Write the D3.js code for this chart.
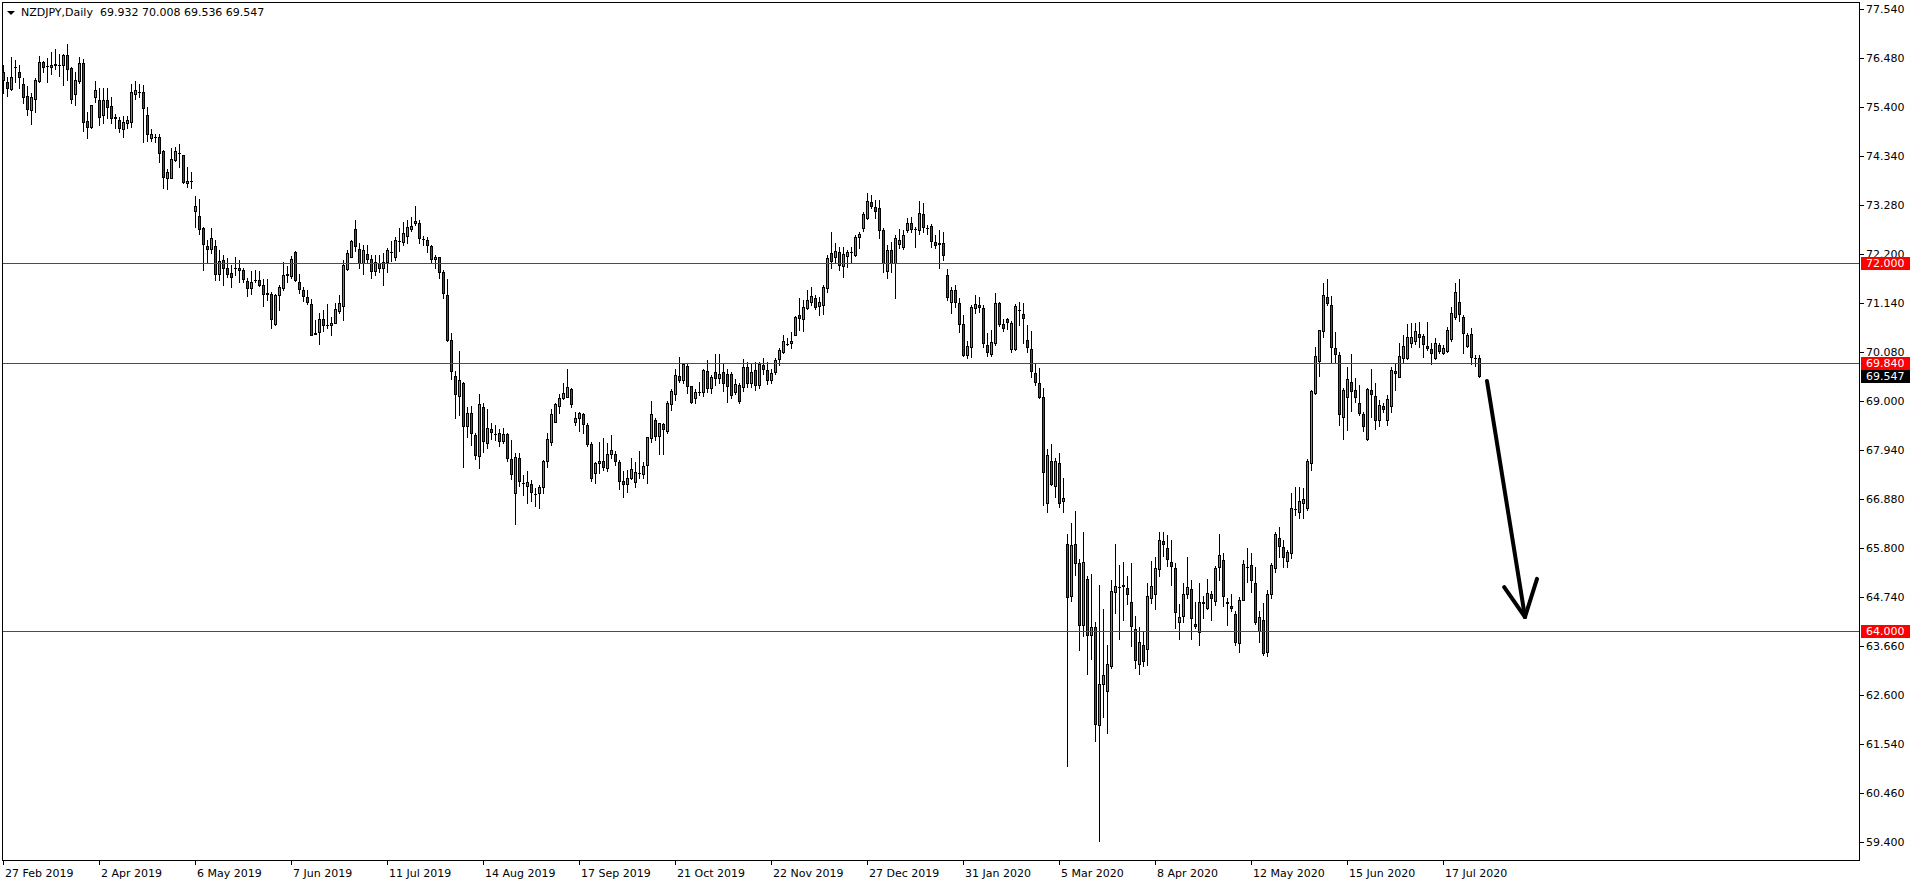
<!DOCTYPE html>
<html><head><meta charset="utf-8">
<script src="https://cdn.jsdelivr.net/npm/d3@7"></script>
<style>html,body{margin:0;padding:0;background:#fff;overflow:hidden}</style>
</head><body><svg id="c" width="1916" height="884"></svg>
<script>
// ---------------- DATA ----------------
const symbolLabel = "NZDJPY,Daily";
const opens = [
76.16,75.94,75.79,76.28,76.16,75.90,75.65,75.33,75.59,75.98,
76.38,76.30,76.28,76.33,76.33,76.31,76.54,76.25,75.69,75.98,
76.36,75.10,74.96,75.63,75.56,75.23,75.56,75.43,75.18,75.12,
74.93,75.05,75.09,75.68,75.74,75.73,75.23,74.72,74.76,74.75,
74.45,73.87,73.85,74.25,74.41,74.36,73.74,73.80,73.15,73.03,
72.78,72.38,72.31,72.38,71.76,72.07,71.91,71.80,71.91,71.91,
71.85,71.61,71.46,71.64,71.64,71.54,71.35,71.33,70.67,71.31,
71.46,71.75,71.73,72.24,71.59,71.41,71.26,71.11,70.48,70.50,
70.80,70.65,70.65,70.71,70.97,71.07,71.88,72.15,72.74,72.31,
72.00,72.20,72.09,71.84,72.00,71.89,72.04,72.24,72.15,72.49,
72.47,72.60,72.74,72.87,72.89,72.53,72.52,72.38,72.09,72.13,
71.81,71.31,70.33,69.55,69.12,69.39,68.47,68.74,68.26,67.81,
68.87,68.08,68.39,68.29,68.30,68.14,68.28,67.74,66.99,67.76,
67.21,67.15,67.19,66.97,66.99,67.12,67.70,68.12,68.55,68.89,
69.06,69.08,69.26,68.54,68.64,68.71,68.48,68.06,67.43,67.65,
67.70,67.54,67.85,67.86,67.67,67.26,67.19,67.32,67.23,67.43,
67.41,67.60,68.19,68.59,68.24,68.50,68.34,68.94,69.15,69.55,
69.45,69.77,69.32,69.06,69.21,69.19,69.66,69.28,69.63,69.50,
69.63,69.59,69.59,69.21,69.35,69.30,69.75,69.40,69.68,69.35,
69.79,69.68,69.45,69.64,69.91,70.06,70.25,70.26,70.45,70.88,
70.80,71.02,71.17,71.24,71.08,71.09,71.47,72.22,72.15,72.24,
71.95,72.17,72.25,72.18,72.57,72.78,72.98,73.33,73.22,73.20,
72.73,71.84,72.29,72.00,72.42,72.36,72.73,72.87,72.74,72.73,
73.07,72.78,72.81,72.46,72.45,72.44,71.75,71.17,71.43,71.13,
70.69,70.00,70.19,71.02,71.09,71.02,70.23,70.03,70.27,71.14,
70.68,70.80,70.13,70.13,70.99,70.90,70.33,70.14,69.61,69.40,
69.09,66.78,67.69,67.15,67.65,66.83,65.90,64.75,65.88,65.48,
64.12,65.13,63.90,64.09,61.94,62.85,62.68,63.24,64.85,64.95,
64.97,64.94,64.63,64.04,63.27,63.68,63.60,64.71,64.81,65.34,
65.96,65.80,65.50,65.37,64.19,64.32,64.81,64.91,64.15,63.97,
64.61,64.49,64.81,64.65,65.38,65.54,64.63,64.54,64.36,63.73,
64.68,65.38,65.43,65.05,63.99,64.23,63.54,64.81,65.37,66.03,
65.82,65.53,65.70,66.65,66.59,66.79,66.68,67.66,69.17,69.88,
70.53,71.26,71.09,70.15,70.01,68.66,69.10,69.41,69.24,68.95,
68.71,68.17,69.24,69.11,68.60,68.90,68.60,68.90,69.66,69.53,
69.95,69.93,70.27,70.32,70.46,70.42,70.20,70.13,69.93,70.22,
70.04,70.10,70.35,70.83,71.15,70.84,70.20,70.46,69.95,69.932];
const highs = [
76.31,76.05,76.49,76.43,76.31,76.03,75.86,75.70,76.04,76.52,
76.41,76.47,76.60,76.67,76.55,76.57,76.78,76.27,76.17,76.49,
76.45,75.29,75.46,75.97,75.81,75.83,75.83,75.63,75.25,75.18,
75.20,75.20,75.90,75.97,75.90,75.89,75.40,74.93,74.81,74.82,
74.47,74.05,74.51,74.53,74.60,74.37,74.11,74.00,73.47,73.40,
72.79,72.52,72.78,72.52,72.29,72.18,72.12,71.96,72.15,72.07,
71.90,71.68,71.84,71.86,71.84,71.66,71.66,71.37,71.33,71.53,
72.02,71.94,72.16,72.28,71.78,71.49,71.43,71.22,70.77,70.93,
70.99,71.11,70.84,71.13,71.31,72.07,72.29,72.51,72.95,72.44,
72.40,72.40,72.18,72.18,72.18,72.22,72.34,72.49,72.58,72.78,
72.91,72.95,73.00,73.24,72.95,72.60,72.58,72.40,72.18,72.15,
71.86,71.66,70.49,69.66,70.09,69.42,68.88,68.90,68.30,69.15,
68.95,68.83,68.52,68.48,68.39,68.41,68.30,68.15,67.88,67.88,
67.39,67.48,67.28,67.10,67.17,67.72,68.30,68.82,68.95,69.15,
69.39,69.69,69.28,68.77,68.77,68.75,68.53,68.10,67.68,68.10,
68.19,68.08,68.26,67.92,67.72,67.49,67.50,67.76,67.68,67.92,
67.68,68.23,69.00,68.63,68.53,68.52,69.00,69.26,69.71,69.97,
69.82,69.82,69.33,69.26,69.42,69.70,69.90,69.57,70.03,70.03,
69.82,69.71,69.64,69.48,69.40,69.92,69.86,69.84,69.86,69.86,
69.93,69.86,69.70,69.93,70.15,70.44,70.37,70.51,70.85,71.25,
71.20,71.43,71.49,71.31,71.27,71.53,72.18,72.68,72.44,72.36,
72.36,72.29,72.36,72.62,72.69,73.13,73.53,73.49,73.38,73.38,
72.78,72.40,72.46,72.62,72.76,72.73,72.98,73.02,72.80,73.36,
73.31,72.84,72.85,72.62,72.73,72.68,71.88,71.49,71.54,71.24,
70.87,70.30,71.09,71.31,71.27,71.10,70.48,70.54,71.35,71.16,
70.78,70.82,70.74,71.12,71.16,71.14,70.65,70.52,69.83,69.73,
69.28,67.96,68.06,67.77,67.88,67.33,66.10,66.35,66.60,65.56,
66.16,65.19,65.23,64.20,64.99,64.47,63.70,65.11,65.88,65.44,
65.49,65.19,65.48,64.33,64.09,63.98,65.03,65.53,65.60,66.16,
66.16,66.08,65.98,65.48,64.59,65.03,65.60,65.11,64.63,65.05,
64.75,65.13,64.87,65.40,66.10,65.70,64.71,64.80,64.42,64.74,
65.54,65.80,65.70,65.38,64.42,64.60,64.89,65.47,66.16,66.25,
65.98,65.76,66.99,67.12,67.14,67.10,67.75,69.24,70.19,70.56,
71.58,71.67,71.28,70.51,70.06,69.28,69.75,70.03,69.50,69.35,
68.77,69.28,69.69,69.40,69.03,68.95,69.13,69.74,69.82,70.26,
70.44,70.69,70.71,70.71,70.73,70.46,70.73,70.26,70.37,70.26,
70.22,70.61,71.04,71.58,71.67,70.88,70.48,70.59,70.00,70.008];
const lows = [
75.72,75.65,75.78,75.96,75.81,75.49,75.23,75.03,75.30,75.96,
76.16,75.96,76.12,76.23,76.08,75.88,75.99,75.50,75.44,75.92,
74.89,74.74,74.94,75.52,75.01,75.05,75.17,75.05,74.94,74.87,
74.76,74.94,74.96,75.59,75.63,74.65,74.67,74.67,74.65,74.20,
73.65,73.61,73.85,74.22,74.11,73.74,73.67,73.64,72.80,72.63,
71.86,72.00,72.22,71.64,71.64,71.54,71.71,71.49,71.75,71.59,
71.59,71.30,71.33,71.59,71.51,71.08,71.20,70.60,70.66,70.99,
71.41,71.59,71.69,71.62,71.35,71.18,71.11,70.43,70.46,70.25,
70.53,70.59,70.44,70.70,70.91,70.77,71.86,72.13,72.27,71.91,
71.77,72.00,71.69,71.75,71.82,71.52,71.82,72.05,72.07,72.26,
72.40,72.44,72.71,72.84,72.45,72.40,72.24,72.00,71.89,71.69,
71.25,70.32,69.48,68.64,68.70,67.57,68.23,68.05,67.74,67.55,
67.90,67.99,68.18,68.15,68.02,68.08,67.70,67.30,66.32,67.15,
66.96,66.78,66.83,66.72,66.67,66.99,67.57,68.05,68.55,68.74,
69.04,69.08,68.88,68.48,68.36,68.30,68.02,67.27,67.21,67.43,
67.50,67.49,67.76,67.61,67.08,66.92,67.03,67.30,67.14,67.32,
67.32,67.21,68.12,68.15,67.84,67.84,68.30,68.81,69.03,69.42,
69.39,69.17,68.97,68.95,69.13,69.11,69.19,69.17,69.35,69.40,
69.22,68.99,69.06,69.16,68.95,69.22,69.30,69.30,69.25,69.28,
69.60,69.38,69.40,69.60,69.79,70.04,70.22,70.15,70.44,70.55,
70.53,71.01,71.09,71.01,70.88,70.89,71.38,71.89,72.04,71.85,
71.71,71.93,72.00,72.17,72.33,72.71,72.97,73.20,72.99,72.55,
71.81,71.69,71.81,71.24,72.33,72.31,72.69,72.69,72.35,72.64,
72.69,72.63,72.35,72.33,71.91,72.07,71.20,70.93,71.06,70.51,
69.99,69.95,69.97,70.91,70.95,70.18,69.99,69.99,70.22,70.64,
70.52,70.58,70.07,70.11,70.65,70.27,70.06,69.52,69.36,69.07,
66.73,66.58,67.17,66.91,66.69,66.59,61.06,64.65,65.22,63.58,
63.88,63.06,63.38,61.59,59.43,62.13,61.77,63.18,64.39,63.82,
64.23,64.59,63.66,63.20,63.06,63.24,63.26,64.60,64.47,65.19,
65.62,65.40,64.99,64.06,63.81,64.20,64.71,63.82,64.06,63.70,
64.28,64.47,64.24,64.56,65.11,64.53,64.12,64.42,63.69,63.54,
64.67,65.07,64.85,64.15,63.76,63.47,63.46,64.72,65.29,65.61,
65.38,65.39,65.58,66.52,66.45,66.45,66.63,67.50,69.16,69.55,
70.39,71.09,69.84,69.84,68.48,68.17,68.37,68.79,68.99,68.70,
68.34,68.15,68.66,68.39,68.46,68.77,68.48,68.77,69.24,69.52,
69.86,69.91,70.17,70.25,70.19,69.97,70.11,69.81,69.91,70.04,
70.02,70.08,70.32,70.80,70.75,70.04,70.19,69.80,69.77,69.536];
const closes = [
75.99,75.83,76.07,76.28,76.05,75.63,75.36,75.62,75.99,76.38,
76.27,76.29,76.32,76.34,76.32,76.54,76.24,75.57,75.99,76.36,
75.09,74.96,75.45,75.77,75.19,75.56,75.40,75.17,75.17,74.94,
75.07,75.12,75.73,75.77,75.74,75.38,74.81,74.81,74.76,74.40,
73.89,73.98,74.27,74.45,74.41,73.77,73.80,73.80,73.25,72.76,
72.42,72.31,72.56,71.78,72.05,71.91,71.78,71.70,71.91,71.86,
71.65,71.46,71.59,71.63,71.54,71.33,71.34,70.78,71.31,71.48,
71.74,71.76,72.09,71.64,71.44,71.30,71.15,70.44,70.46,70.80,
70.66,70.65,70.70,71.00,71.13,71.97,72.22,72.49,72.37,72.00,
72.29,72.09,71.84,72.02,71.91,72.02,72.29,72.24,72.51,72.49,
72.66,72.79,72.81,72.92,72.55,72.53,72.39,72.09,72.14,71.81,
71.36,70.33,69.66,69.16,69.46,68.47,68.74,68.30,67.83,68.93,
68.13,68.41,68.32,68.29,68.14,68.28,67.76,67.41,67.78,67.27,
67.21,67.23,67.03,66.97,67.12,67.70,68.17,68.71,68.94,69.06,
69.17,69.30,68.93,68.63,68.74,68.50,68.06,67.32,67.66,67.70,
67.56,67.86,67.94,67.70,67.26,67.19,67.32,67.52,67.45,67.43,
67.59,68.21,68.73,68.24,68.52,68.39,68.95,69.22,69.57,69.46,
69.81,69.32,68.99,69.21,69.21,69.68,69.28,69.52,69.50,69.59,
69.40,69.32,69.13,69.37,69.00,69.75,69.40,69.64,69.35,69.80,
69.70,69.45,69.62,69.90,70.11,70.31,70.25,70.30,70.84,70.82,
71.06,71.20,71.30,71.04,71.15,71.48,72.12,72.05,72.28,71.96,
72.20,72.25,72.25,72.58,72.65,73.07,73.36,73.24,73.15,72.73,
72.00,72.29,72.00,72.55,72.52,72.62,72.89,72.76,72.74,73.09,
72.80,72.78,72.49,72.40,72.43,72.18,71.26,71.42,71.15,70.69,
70.00,70.21,71.06,71.11,71.04,70.26,70.07,70.29,71.14,70.68,
70.60,70.72,70.70,71.08,70.98,70.82,70.18,69.65,69.41,69.08,
67.45,67.82,67.19,67.69,66.78,66.89,64.73,65.86,65.48,64.12,
65.49,63.90,64.08,61.97,62.83,63.03,63.27,64.87,64.98,64.95,
64.99,64.81,64.10,63.36,63.76,63.35,64.75,64.98,65.37,65.98,
65.90,65.57,65.42,64.40,64.31,64.81,64.95,64.27,64.10,64.63,
64.62,64.83,64.71,65.37,65.64,64.75,64.60,64.49,63.76,64.68,
65.45,65.38,65.10,64.18,64.29,63.52,64.81,65.43,66.10,65.85,
65.60,65.71,66.67,66.66,66.83,66.88,67.70,69.22,69.98,70.55,
71.31,71.13,70.19,70.02,68.71,69.24,69.48,69.23,69.08,68.75,
68.47,69.26,69.16,68.60,68.92,68.84,69.04,69.68,69.61,69.98,
70.20,70.39,70.39,70.53,70.40,70.25,70.15,70.04,70.26,70.10,
70.16,70.55,70.91,71.38,70.90,70.48,70.44,69.97,69.93,69.547];

const xTickLabels = ["27 Feb 2019","2 Apr 2019","6 May 2019","7 Jun 2019","11 Jul 2019",
  "14 Aug 2019","17 Sep 2019","21 Oct 2019","22 Nov 2019","27 Dec 2019","31 Jan 2020",
  "5 Mar 2020","8 Apr 2020","12 May 2020","15 Jun 2020","17 Jul 2020"];
const xTickBars = [0,24,48,72,96,120,144,168,192,216,240,264,288,312,336,360];
const yTickValues = [77.54,76.48,75.40,74.34,73.28,72.20,71.14,70.08,69.00,67.94,66.88,
  65.80,64.74,63.66,62.60,61.54,60.46,59.40];
const levelPrices = [72.0, 69.84, 64.0];
const arrowBars = [371, 380.5];
const arrowPrices = [69.44, 64.30];
const arrowHeadBars = [375.3, 383.5];
const arrowHeadPrices = [64.95, 65.13];

// ---------------- CHART ----------------
const FONT = "DejaVu Sans, Verdana, sans-serif";
const svg = d3.select("#c");
const P = {left: 2, top: 2, right: 1859, bottom: 860};
const x = d3.scaleLinear().domain([-0.25, 464]).range([P.left, P.right]);
const y = d3.scaleLinear().domain([59.4, 77.54]).range([842, 9]);
const R = Math.round;
const BULL = "#33b533", BEAR = "#ff0000";

svg.append("rect").attr("width", 1916).attr("height", 884).attr("fill", "#fff");

const data = opens.map((o, i) => ({i, o, h: highs[i], l: lows[i], c: closes[i]}));
const gC = svg.append("g");
// wicks
gC.selectAll("rect.w").data(data).join("rect")
  .attr("x", d => R(x(d.i)))
  .attr("y", d => R(y(d.h)))
  .attr("width", 1)
  .attr("height", d => Math.max(1, R(y(d.l)) - R(y(d.h)) + 1))
  .attr("fill", "#000");
// bodies
const bodies = data.filter(d => R(y(d.o)) !== R(y(d.c)));
gC.selectAll("rect.b").data(bodies).join("rect")
  .attr("x", d => R(x(d.i)) - 0.5)
  .attr("y", d => R(y(Math.max(d.o, d.c))) + 0.5)
  .attr("width", 2)
  .attr("height", d => R(y(Math.min(d.o, d.c))) - R(y(Math.max(d.o, d.c))))
  .attr("fill", d => d.c > d.o ? BULL : BEAR)
  .attr("stroke", "#000").attr("stroke-width", 1);
// doji
const dojis = data.filter(d => R(y(d.o)) === R(y(d.c)));
gC.selectAll("rect.d").data(dojis).join("rect")
  .attr("x", d => R(x(d.i)) - 1)
  .attr("y", d => R(y(d.o)))
  .attr("width", 3).attr("height", 1).attr("fill", "#000");

// horizontal levels
svg.append("g").selectAll("line").data(levelPrices).join("line")
  .attr("x1", P.left).attr("x2", P.right)
  .attr("y1", d => R(y(d)) + 0.5).attr("y2", d => R(y(d)) + 0.5)
  .attr("stroke", "#ff0000").attr("stroke-width", 1);

// arrow
const gA = svg.append("g").attr("stroke", "#000").attr("stroke-width", 4)
  .attr("stroke-linecap", "round").attr("fill", "none");
gA.append("line")
  .attr("x1", x(arrowBars[0])).attr("y1", y(arrowPrices[0]))
  .attr("x2", x(arrowBars[1])).attr("y2", y(arrowPrices[1]));
arrowHeadBars.forEach((b, k) => {
  gA.append("line")
    .attr("x1", x(arrowBars[1])).attr("y1", y(arrowPrices[1]))
    .attr("x2", x(b)).attr("y2", y(arrowHeadPrices[k]));
});

// frame
svg.append("rect").attr("x", P.left + 0.5).attr("y", P.top + 0.5)
  .attr("width", P.right - P.left).attr("height", P.bottom - P.top)
  .attr("fill", "none").attr("stroke", "#000").attr("stroke-width", 1);

// y axis
const gY = svg.append("g").attr("font-family", FONT).attr("font-size", 11);
yTickValues.forEach(v => {
  const yy = R(y(v));
  gY.append("rect").attr("x", P.right + 1).attr("y", yy).attr("width", 4).attr("height", 1).attr("fill", "#000");
  gY.append("text").attr("x", 1866).attr("y", yy + 4).attr("fill", "#000").text(v.toFixed(3));
});

// x axis
const gX = svg.append("g").attr("font-family", FONT).attr("font-size", 11);
xTickBars.forEach((b, k) => {
  const xx = R(x(b));
  gX.append("rect").attr("x", xx).attr("y", P.bottom + 1).attr("width", 1).attr("height", 4).attr("fill", "#000");
  gX.append("text").attr("x", xx + 2).attr("y", 877).attr("fill", "#000").text(xTickLabels[k]);
});

// price tags
const lastClose = closes[closes.length - 1];
const tags = levelPrices.map(p => ({p, fill: "#ff0000"})).concat([{p: lastClose, fill: "#000"}]);
const gT = svg.append("g").attr("font-family", FONT).attr("font-size", 11);
tags.forEach(t => {
  const yy = R(y(t.p));
  gT.append("rect").attr("x", 1861).attr("y", yy - 6).attr("width", 49).attr("height", 13).attr("fill", t.fill);
  gT.append("text").attr("x", 1866).attr("y", yy + 4).attr("fill", "#fff").text(t.p.toFixed(3));
});

// header
const n = opens.length - 1;
svg.append("path").attr("d", "M7,11 L15,11 L11,15 Z").attr("fill", "#000");
svg.append("text").attr("x", 21).attr("y", 16).attr("font-family", FONT).attr("font-size", 11)
  .attr("fill", "#000").attr("xml:space", "preserve")
  .text(symbolLabel + "  " + [opens[n], highs[n], lows[n], closes[n]].map(v => v.toFixed(3)).join(" "));
</script></body></html>
